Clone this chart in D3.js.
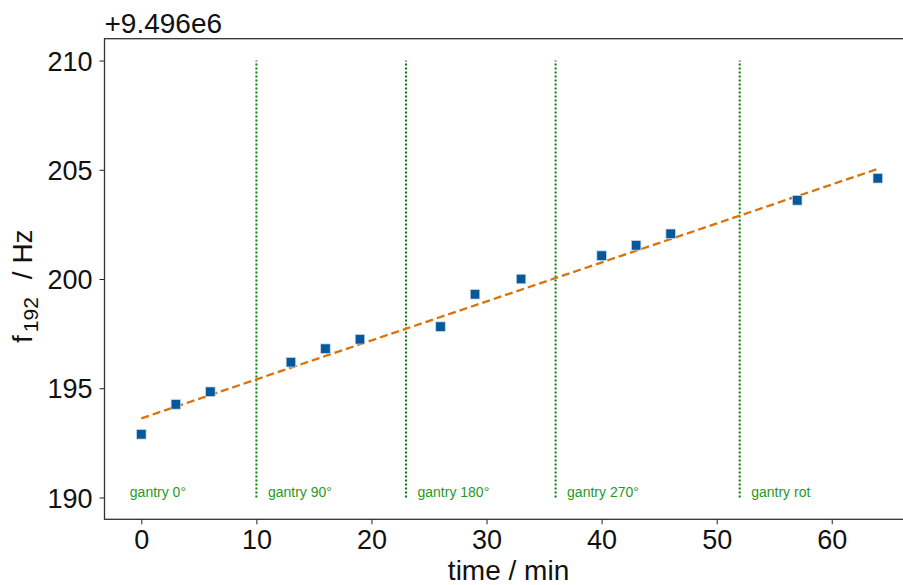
<!DOCTYPE html>
<html>
<head>
<meta charset="utf-8">
<script src="https://cdn.jsdelivr.net/npm/d3@7"></script>
<style>
  html, body { margin: 0; padding: 0; background: #fff; }
  svg { display: block; font-family: "Liberation Sans", Arial, sans-serif; }
</style>
</head>
<body>
<svg id="chart" width="903" height="585"></svg>
<script>
// ---- data ----
const timeMin = [0, 3, 6, 13, 16, 19, 26, 29, 33, 40, 43, 46, 57, 64];
const freqOffset = [192.89, 194.26, 194.84, 196.19, 196.81, 197.24, 197.82, 199.30, 200.00, 201.07, 201.54, 202.07, 203.60, 204.61];
const fitTime = [0, 64];
const fitFreq = [193.62, 205.04];
const gantryTimes = [10, 23, 36, 52];
const gantryLabels = ["gantry 0°", "gantry 90°", "gantry 180°", "gantry 270°", "gantry rot"];
const gantryLabelTimes = [-1, 11, 24, 37, 53];
const xTicks = [0, 10, 20, 30, 40, 50, 60];
const yTicks = [190, 195, 200, 205, 210];
const offsetText = "+9.496e6";

(function () {
// ---- layout ----
const svg = d3.select("#chart");
const pLeft = 104.5, pRight = 914.6, pTop = 38.7, pBottom = 519.3;
const x = d3.scaleLinear().domain([-3.2, 67.2]).range([pLeft, pRight]);
const y = d3.scaleLinear().domain([189, 211]).range([pBottom, pTop]);

const g = svg.append("g");

// vertical gantry lines
g.selectAll("line.vl").data(gantryTimes).enter().append("line")
  .attr("x1", d => x(d)).attr("x2", d => x(d))
  .attr("y1", y(190)).attr("y2", y(210))
  .attr("stroke", "#008000").attr("stroke-width", 2)
  .attr("stroke-dasharray", "2,2");

// gantry labels
g.selectAll("text.gl").data(gantryLabels).enter().append("text")
  .attr("x", (d, i) => x(gantryLabelTimes[i]))
  .attr("y", y(190))
  .attr("fill", "#1f9a1f")
  .attr("font-size", 14)
  .text(d => d);

// fit line
const line = d3.line().x(d => x(d[0])).y(d => y(d[1]));
g.append("path")
  .datum(fitTime.map((t, i) => [t, fitFreq[i]]))
  .attr("d", line)
  .attr("fill", "none")
  .attr("stroke", "#d9730d")
  .attr("stroke-width", 2.3)
  .attr("stroke-dasharray", "8,4");

// markers
const ms = 9.5;
g.selectAll("rect.pt").data(timeMin).enter().append("rect")
  .attr("x", (d) => x(d) - ms / 2)
  .attr("y", (d, i) => y(freqOffset[i]) - ms / 2)
  .attr("width", ms).attr("height", ms)
  .attr("fill", "#04589c")
  .attr("stroke", "#c8d8e8").attr("stroke-width", 0.7);

// axes
const xAxis = d3.axisBottom(x).tickValues(xTicks).tickSize(5).tickPadding(6).tickFormat(d3.format("d"));
const yAxis = d3.axisLeft(y).tickValues(yTicks).tickSize(5).tickPadding(7).tickFormat(d3.format("d"));

const gx = svg.append("g").attr("transform", `translate(0,${pBottom})`).call(xAxis);
const gy = svg.append("g").attr("transform", `translate(${pLeft},0)`).call(yAxis);
[gx, gy].forEach(a => {
  a.select(".domain").remove();
  a.selectAll(".tick line").attr("stroke", "#222").attr("stroke-width", 1);
  a.selectAll(".tick text").attr("fill", "#111").attr("font-size", 27)
    .attr("font-family", "'Liberation Sans', Arial, sans-serif");
});
gy.selectAll(".tick text").attr("dy", "0.36em");

// frame (right spine lies beyond the visible area)
svg.append("rect")
  .attr("x", pLeft).attr("y", pTop)
  .attr("width", pRight - pLeft).attr("height", pBottom - pTop)
  .attr("fill", "none").attr("stroke", "#333").attr("stroke-width", 1.3);

// offset text
svg.append("text")
  .attr("x", pLeft).attr("y", 33)
  .attr("font-size", 28).attr("fill", "#111")
  .text(offsetText);

// x label
svg.append("text")
  .attr("x", (pLeft + pRight) / 2 - 1).attr("y", 580)
  .attr("text-anchor", "middle")
  .attr("font-size", 28).attr("fill", "#111")
  .text("time / min");

// y label with subscript
const yl = svg.append("text")
  .attr("transform", `translate(32,343) rotate(-90)`)
  .attr("text-anchor", "start")
  .attr("font-size", 28).attr("fill", "#111");
yl.append("tspan").text("f");
yl.append("tspan").attr("font-size", 21).attr("dx", 3).attr("dy", 6).text("192");
yl.append("tspan").attr("dx", 18).attr("dy", -6).text("/ Hz");
})();
</script>
</body>
</html>
